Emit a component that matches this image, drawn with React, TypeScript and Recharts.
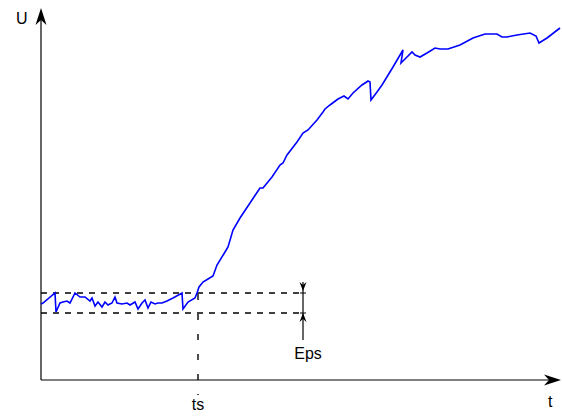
import React from 'react'
import { LineChart, Line, XAxis, YAxis, ReferenceLine } from 'recharts'

// time / signal samples
const tValues = [0, 2, 14, 15, 19, 22, 26, 29, 34, 39, 44, 49, 51, 54, 57, 61, 64, 67, 71, 74, 76, 81, 86, 89, 94, 97, 101, 104, 107, 110, 114, 117, 121, 126, 132, 141, 142, 147, 154, 156, 158, 162, 167, 172, 176, 184, 187, 192, 199, 211, 219, 222, 231, 239, 242, 246, 256, 262, 267, 276, 282, 284, 289, 297, 303, 307, 312, 321, 327, 329, 330, 336, 341, 352, 362, 360, 366, 371, 374, 379, 386, 394, 399, 407, 419, 432, 444, 456, 461, 466, 476, 489, 495, 498, 506, 519]
const uValues = [76, 77, 87, 68, 77, 78, 79, 77, 87, 83, 83, 79, 82, 74, 78, 73, 78, 75, 77, 83, 77, 76, 77, 75, 78, 71, 77, 80, 72, 78, 76, 77, 77, 79, 82, 87, 71, 78, 82, 87, 93, 98, 101, 104, 115, 128, 133, 150, 162, 180, 192, 192, 203, 215, 217, 225, 238, 247, 250, 260, 268, 271, 275, 281, 284, 281, 287, 295, 299, 298, 280, 288, 295, 313, 330, 317, 323, 328, 325, 323, 327, 332, 331, 331, 335, 342, 346, 346, 343, 343, 345, 347, 344, 337, 342, 352]

// annotation levels
const epsHigh = 87
const epsLow = 67
const ts = 157
const epsX = 262
const tMax = 520
const uMax = 372

const data = tValues.map((t, i) => ({ t, u: uValues[i] }))

const font = 'Liberation Sans, Arial, sans-serif'

const bigHead = (x: number, y: number, dir: 'up' | 'right') =>
    dir === 'up'
        ? `M${x},${y} L${x - 5.5},${y + 17} L${x},${y + 12} L${x + 5.5},${y + 17} Z`
        : `M${x},${y} L${x - 17},${y - 5.5} L${x - 12},${y} L${x - 17},${y + 5.5} Z`

const smallHead = (x: number, y: number, dir: 'up' | 'down') => {
    const s = dir === 'down' ? -1 : 1
    return `M${x},${y} L${x - 3.5},${y + s * 9} L${x},${y + s * 6} L${x + 3.5},${y + s * 9} Z`
}

const YAxisArrow = (p: any) => (
    <g>
        <line x1={p.x1} y1={p.y1} x2={p.x2} y2={p.y2 + 8} stroke="#000" strokeWidth={1.2} />
        <path d={bigHead(p.x2, p.y2, 'up')} fill="#000" />
        <text x={p.x2 - 25} y={p.y2 + 16} fontSize={16} fontFamily={font}>U</text>
    </g>
)

const XAxisArrow = (p: any) => (
    <g>
        <line x1={p.x1} y1={p.y1} x2={p.x2 - 8} y2={p.y2} stroke="#000" strokeWidth={1.2} />
        <path d={bigHead(p.x2, p.y2, 'right')} fill="#000" />
        <text x={p.x2 - 13} y={p.y2 + 27} fontSize={16} fontFamily={font}>t</text>
    </g>
)

const TsLine = (p: any) => (
    <g>
        <line x1={p.x1} y1={p.y1} x2={p.x2} y2={p.y2} stroke="#000" strokeWidth={1.4} strokeDasharray="6 14" strokeDashoffset={-1} />
        <text x={p.x2} y={p.y2 + 15} fontSize={16} fontFamily={font} textAnchor="middle">ts</text>
    </g>
)

const EpsTop = (p: any) => (
    <g>
        <line x1={p.x1} y1={p.y1} x2={p.x2} y2={p.y2} stroke="#000" strokeWidth={1.2} />
        <path d={smallHead(p.x2, p.y2 - 2, 'down')} fill="#000" />
        <line x1={p.x2 - 3} y1={p.y2} x2={p.x2 + 3} y2={p.y2} stroke="#000" strokeWidth={1} />
    </g>
)

const EpsBottom = (p: any) => (
    <g>
        <line x1={p.x1} y1={p.y1} x2={p.x2} y2={p.y2} stroke="#000" strokeWidth={1.2} />
        <path d={smallHead(p.x2, p.y2, 'up')} fill="#000" />
        <line x1={p.x2 - 3} y1={p.y2} x2={p.x2 + 3} y2={p.y2} stroke="#000" strokeWidth={1} />
        <text x={p.x1 + 5} y={p.y1 + 19} fontSize={16} fontFamily={font} textAnchor="middle">Eps</text>
    </g>
)

function App() {
    return (
        <div style={{ position: 'absolute', left: 0, top: 0 }}>
            <LineChart width={562} height={418} data={data}
                margin={{ top: 8, right: 1, left: 41, bottom: 8 }}>
                <XAxis type="number" dataKey="t" domain={[0, tMax]} hide />
                <YAxis type="number" domain={[-30, uMax]} hide />
                <ReferenceLine segment={[{ x: 0, y: epsHigh }, { x: epsX + 2, y: epsHigh }]}
                    stroke="#000" strokeWidth={1.4} strokeDasharray="6 6" ifOverflow="visible" />
                <ReferenceLine segment={[{ x: 0, y: epsLow }, { x: epsX + 2, y: epsLow }]}
                    stroke="#000" strokeWidth={1.4} strokeDasharray="6 6" ifOverflow="visible" />
                <ReferenceLine segment={[{ x: ts, y: epsHigh }, { x: ts, y: -15 }]}
                    ifOverflow="visible" shape={TsLine} />
                <ReferenceLine segment={[{ x: epsX, y: 98 }, { x: epsX, y: epsHigh }]}
                    ifOverflow="visible" shape={EpsTop} />
                <ReferenceLine segment={[{ x: epsX, y: epsHigh }, { x: epsX, y: epsLow }]}
                    stroke="#000" strokeWidth={1.2} ifOverflow="visible" />
                <ReferenceLine segment={[{ x: epsX, y: 40 }, { x: epsX, y: epsLow }]}
                    ifOverflow="visible" shape={EpsBottom} />
                <ReferenceLine segment={[{ x: 0, y: 0 }, { x: 0, y: uMax }]}
                    ifOverflow="visible" shape={YAxisArrow} />
                <ReferenceLine segment={[{ x: 0, y: 0 }, { x: tMax, y: 0 }]}
                    ifOverflow="visible" shape={XAxisArrow} />
                <Line type="linear" dataKey="u" stroke="#0000ff" strokeWidth={1.6}
                    dot={false} isAnimationActive={false} />
            </LineChart>
        </div>
    )
}

export default App
